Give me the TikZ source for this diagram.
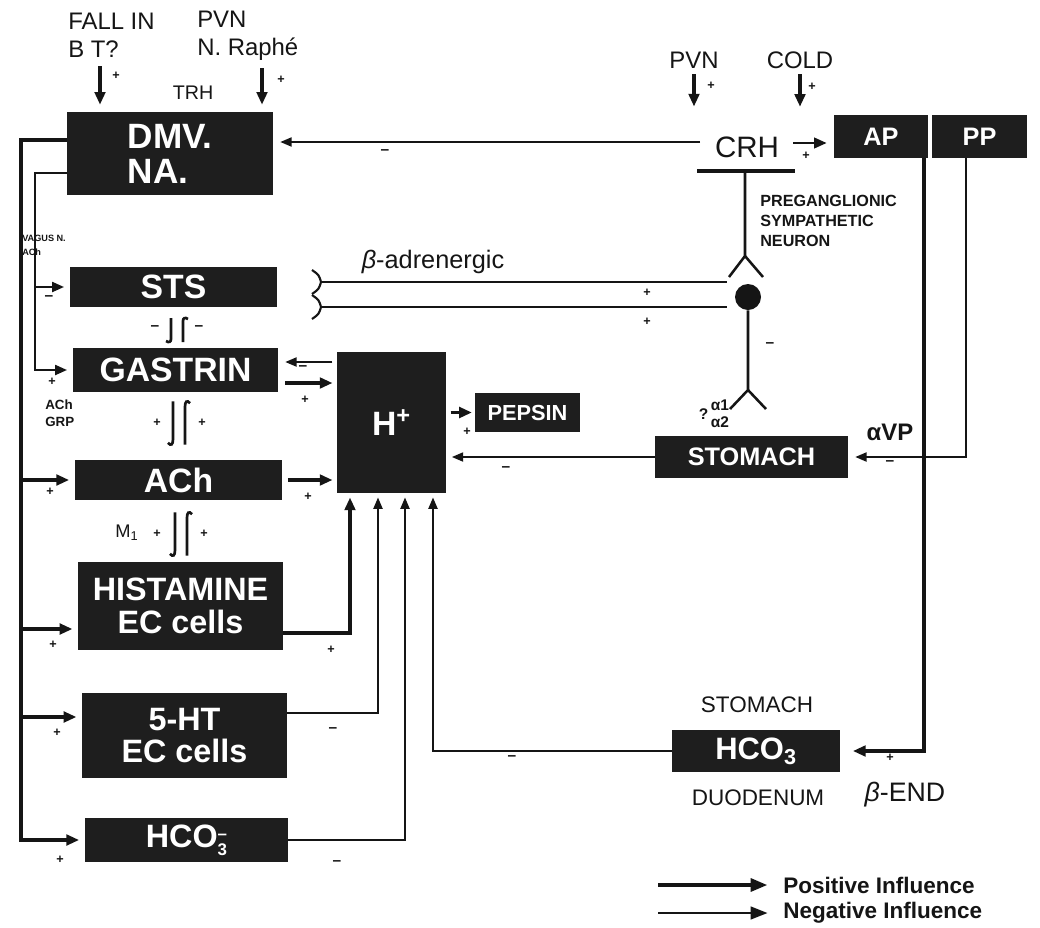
\documentclass[tikz,border=0pt]{standalone}
\usepackage{fontspec}
\setmainfont{Liberation Sans}
\usetikzlibrary{arrows.meta}
\definecolor{boxc}{HTML}{1E1E1E}
\definecolor{ink}{HTML}{151515}
\newcommand{\fsz}[1]{\fontsize{#1}{#1}\selectfont}
\begin{document}
\begin{tikzpicture}[x=0.025cm,y=-0.025cm,
  box/.style={fill=boxc,text=white,font=\bfseries\fsz{#1},inner sep=0pt,align=center},
  lbl/.style={inner sep=0pt,text=ink},
  sgn/.style={inner sep=0pt,text=ink,font=\bfseries\fsz{9}},
  sgnm/.style={inner sep=0pt,text=ink,font=\bfseries\fsz{11}},
  posarr/.style={draw=ink,line width=2.2pt,-{Triangle[length=9pt,width=7.5pt]}},
  negarr/.style={draw=ink,line width=1.1pt,-{Triangle[length=8pt,width=6.5pt]}},
  midarr/.style={draw=ink,line width=1.7pt,-{Triangle[length=8.5pt,width=7pt]}},
  nerve/.style={draw=ink,line width=1.8pt},
  hk/.pic={
    \draw[ink,line width=1.9pt] (-6,-12) -- (-6,9) .. controls (-6,12) and (-8,13) .. (-11,11);
    \draw[ink,line width=1.9pt] (6,12) -- (6,-9) .. controls (6,-12) and (8,-13) .. (11,-11);
  }
]
\useasboundingbox[fill=white] (0,0) rectangle (1040,928);

% ---------- boxes ----------
\node[box=25, minimum width=5.15cm, minimum height=2.075cm, align=left] (dmv) at (170,153.5) {DMV.\\NA.};
\node[box=24, minimum width=5.175cm, minimum height=1cm] (sts) at (173.5,287) {STS};
\node[box=24, minimum width=5.125cm, minimum height=1.1cm] (gastrin) at (175.5,370) {GASTRIN};
\node[box=24, minimum width=5.175cm, minimum height=1cm] (ach) at (178.5,480) {ACh};
\node[box=23, minimum width=5.125cm, minimum height=2.2cm] (hist) at (180.5,606) {\fontsize{23}{27}\selectfont HISTAMINE\\EC cells};
\node[box=23, minimum width=5.125cm, minimum height=2.125cm] (ht5) at (184.5,735.5) {5-HT\\EC cells};
\node[box=23, minimum width=5.075cm, minimum height=1.1cm] (hco3l) at (186.5,840) {HCO\raisebox{-0.26em}{\fontsize{12}{18.5}\selectfont\shortstack{\textendash\\3}}};
\node[box=24, minimum width=2.725cm, minimum height=3.525cm] (hplus) at (391.5,422.5) {H\textsuperscript{+}};
\node[box=15.5, minimum width=2.625cm, minimum height=0.975cm] (pepsin) at (527.5,412.5) {PEPSIN};
\node[box=18, minimum width=4.825cm, minimum height=1.05cm] (stomach) at (751.5,457) {STOMACH};
\node[box=18, minimum width=2.35cm, minimum height=1.075cm] (ap) at (881,136.5) {AP};
\node[box=18, minimum width=2.375cm, minimum height=1.075cm] (pp) at (979.5,136.5) {PP};
\node[box=22, minimum width=4.2cm, minimum height=1.05cm] (hco3s) at (756,751) {HCO\textsubscript{3}};

% ---------- labels ----------
\node[lbl, font={\fontsize{17}{20}\selectfont}, align=left, anchor=west] (fall) at (68,35) {FALL IN\\B T?};
\node[lbl, font={\fontsize{17}{20}\selectfont}, align=left, anchor=west] (raphe) at (197,36) {PVN\\N. Raphé};
\node[lbl, font=\fsz{14}] (trh) at (193,93) {TRH};
\node[lbl, font=\fsz{17}] (pvnr) at (694,60) {PVN};
\node[lbl, font=\fsz{17}] (cold) at (800,60) {COLD};
\node[lbl, font=\fsz{21}] (crh) at (747,147) {CRH};
\node[lbl, font={\bfseries\fontsize{11.5}{14}\selectfont}, align=left, anchor=west] (pregang) at (760,221) {PREGANGLIONIC\\SYMPATHETIC\\NEURON};
\node[lbl, font=\fsz{18}] (betaadr) at (433,262) {\textit{β}-adrenergic};
\node[lbl, font={\bfseries\fsz{17}}] (avp) at (890,432) {αVP};
\node[lbl, font=\fsz{16}] (stlab) at (757,705) {STOMACH};
\node[lbl, font=\fsz{16}] (duo) at (758,798) {DUODENUM};
\node[lbl, font=\fsz{19}] (bend) at (905,795) {\textit{β}-END};
\node[lbl, font={\bfseries\fontsize{6.5}{10}\selectfont}, align=left, anchor=west] (vagus) at (22,245) {VAGUS N.\\ACh};
\node[lbl, font={\bfseries\fontsize{9.5}{12}\selectfont}, align=left, anchor=west] (achgrp) at (45,413) {ACh\\GRP};
\node[lbl, font=\fsz{13}] (m1) at (127,533) {M\textsubscript{1}};
\node[lbl, font={\bfseries\fontsize{11}{12}\selectfont}] (alph) at (714,416) {?\,\begin{tabular}[c]{@{}l@{}}α1\\α2\end{tabular}};

% ---------- interaction hooks ----------
\pic (hk1) at (177,330) {hk};
\pic[yscale=1.8] (hk2) at (179,423) {hk};
\pic[yscale=1.8] (hk3) at (181,534) {hk};

% ---------- top inputs ----------
\coordinate (fx) at (100,0);
\coordinate (rx) at (262,0);
\draw[posarr, shorten <=6pt, shorten >=5pt] (fall.south -| fx) -- (dmv.north -| fx);
\draw[posarr, shorten <=5pt, shorten >=5pt] (raphe.south -| rx) -- (dmv.north -| rx);
\draw[posarr, shorten <=4pt] (pvnr.south) -- ++(0,38);
\draw[posarr, shorten <=4pt] (cold.south) -- ++(0,38);

% ---------- CRH ----------
\coordinate (crhL) at (700,142);
\draw[negarr, line width=1pt, shorten >=5pt] (crhL) -- (crhL -| dmv.east);
\coordinate (crhR) at (793,143);
\draw[posarr, line width=1.8pt, shorten >=5pt] (crhR) -- (crhR -| ap.west);

% ---------- sympathetic neuron ----------
\draw[ink, line width=2.6pt] (697,171) -- (795,171);
\draw[nerve] (745,171) -- (745,256) -- (729,277);
\draw[nerve] (745,256) -- (763,277);
\node[circle, fill=ink, minimum size=0.65cm, inner sep=0pt] (soma) at (748,297) {};
\draw[nerve] (soma.south) -- (748,390) -- (730,409);
\draw[nerve] (748,390) -- (766,409);

% beta-adrenergic fibres
\coordinate (t1) at (321,282);
\coordinate (t2) at (321,307);
\draw[ink, line width=2pt, shorten >=5.5pt] (t1) -- (t1 -| soma.west);
\draw[ink, line width=2pt, shorten >=5.5pt] (t2) -- (t2 -| soma.west);
\draw[ink, line width=1.5pt] (312,270) .. controls (319,275) .. (t1) .. controls (319,289) .. (312,294);
\draw[ink, line width=1.5pt] (312,295) .. controls (319,300) .. (t2) .. controls (319,314) .. (312,319);

% ---------- left buses ----------
\coordinate (obx) at (21,0);
\coordinate (ibx) at (35,0);
\coordinate (dmvO) at (67,140);
\coordinate (dmvI) at (67,173);
\draw[posarr, shorten >=4pt] (dmvO) -| (obx |- hco3l.west) -- (hco3l.west);
\draw[posarr, shorten >=4pt] (obx |- ach.west) -- (ach.west);
\coordinate (histIn) at (78,629);
\draw[posarr, shorten >=4pt] (obx |- histIn) -- (histIn);
\coordinate (ht5In) at (82,717);
\draw[posarr, shorten >=4pt] (obx |- ht5In) -- (ht5In);
\draw[midarr, shorten >=4pt] (dmvI) -| (ibx |- gastrin.west) -- (gastrin.west);
\draw[midarr, shorten >=4pt] (ibx |- sts.west) -- (sts.west);

% ---------- into H+ ----------
\coordinate (g1) at (0,362);
\coordinate (g2) at (0,383);
\draw[negarr, shorten <=3pt, shorten >=5pt] (hplus.west |- g1) -- (gastrin.east |- g1);
\draw[posarr, shorten <=5pt, shorten >=3pt] (gastrin.east |- g2) -- (hplus.west |- g2);
\draw[posarr, shorten <=4pt, shorten >=3pt] (ach.east) -- (ach.east -| hplus.west);
\coordinate (v1) at (350,0);
\coordinate (v2) at (378,0);
\coordinate (v3) at (405,0);
\coordinate (v4) at (433,0);
\coordinate (hr1) at (0,633);
\coordinate (hr2) at (0,713);
\draw[posarr, shorten >=3pt] (hist.east |- hr1) -| (hplus.south -| v1);
\draw[negarr, shorten >=3pt] (ht5.east |- hr2) -| (hplus.south -| v2);
\draw[negarr, shorten >=3pt] (hco3l.east) -| (hplus.south -| v3);
\draw[negarr, shorten >=3pt] (hco3s.west) -| (hplus.south -| v4);
\draw[posarr, shorten <=3pt, shorten >=2pt] (hplus.east |- pepsin.west) -- (pepsin.west);
\draw[negarr, shorten >=4pt] (stomach.west) -- (stomach.west -| hplus.east);

% ---------- pituitary outputs ----------
\coordinate (apx) at (924,0);
\coordinate (ppx) at (966,0);
\draw[posarr, shorten >=9pt] (ap.south -| apx) |- (hco3s.east);
\draw[negarr, shorten >=5pt] (pp.south -| ppx) |- (stomach.east);

% ---------- signs ----------
\node[sgn] (p1) at (116,76) {+};
\node[sgn] (p2) at (281,80) {+};
\node[sgn] (p3) at (711,86) {+};
\node[sgn] (p4) at (812,87) {+};
\node[sgn] (p5) at (806,156) {+};
\node[sgn] (p6) at (647,293) {+};
\node[sgn] (p7) at (647,322) {+};
\node[sgn] (p8) at (52,382) {+};
\node[sgn] (p9) at (50,492) {+};
\node[sgn] (p10) at (53,645) {+};
\node[sgn] (p11) at (57,733) {+};
\node[sgn] (p12) at (60,860) {+};
\node[sgn] (p13) at (305,400) {+};
\node[sgn] (p14) at (308,497) {+};
\node[sgn] (p15) at (331,650) {+};
\node[sgn] (p16) at (467,432) {+};
\node[sgn] (p17) at (890,758) {+};
\node[sgn] (p18) at (157,423) {+};
\node[sgn] (p19) at (202,423) {+};
\node[sgn] (p20) at (157,534) {+};
\node[sgn] (p21) at (204,534) {+};
\node[sgnm] (m01) at (385,152) {\textendash};
\node[sgnm] (m02) at (49,298) {\textendash};
\node[sgnm] (m03) at (303,368) {\textendash};
\node[sgnm] (m04) at (333,730) {\textendash};
\node[sgnm] (m05) at (337,863) {\textendash};
\node[sgnm] (m06) at (512,758) {\textendash};
\node[sgnm] (m07) at (506,469) {\textendash};
\node[sgnm] (m08) at (770,345) {\textendash};
\node[sgnm] (m09) at (890,463) {\textendash};
\node[sgnm] (m10) at (155,328) {\textendash};
\node[sgnm] (m11) at (199,328) {\textendash};

% ---------- legend ----------
\node[lbl, font={\bfseries\fsz{16}}, anchor=west] (lpos) at (783,885) {Positive Influence};
\node[lbl, font={\bfseries\fsz{16}}, anchor=west] (lneg) at (783,913) {Negative Influence};
\coordinate (lp0) at (658,885);
\coordinate (ln0) at (658,913);
\draw[draw=ink, line width=2.8pt, -{Triangle[length=12pt,width=9pt]}, shorten >=11pt] (lp0) -- (lpos.west);
\draw[draw=ink, line width=1.6pt, -{Triangle[length=12pt,width=9pt]}, shorten >=11pt] (ln0) -- (lneg.west);
\end{tikzpicture}
\end{document}
